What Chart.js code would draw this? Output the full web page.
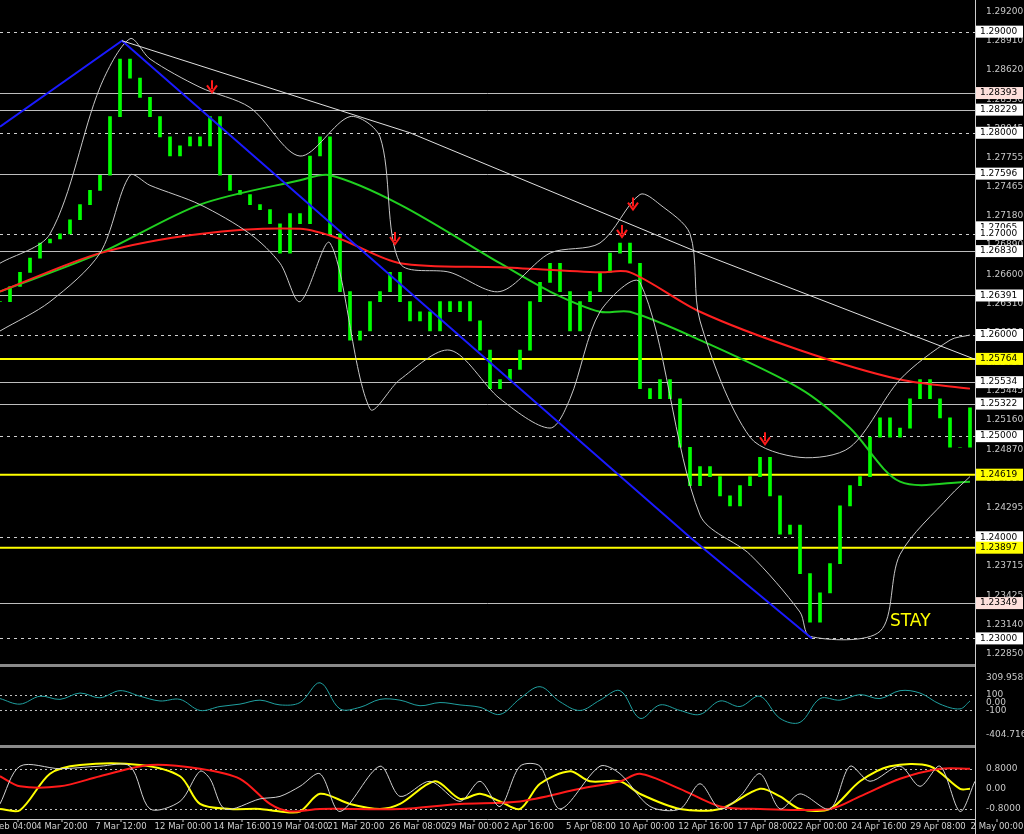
<!DOCTYPE html>
<html><head><meta charset="utf-8">
<script src="https://cdn.jsdelivr.net/npm/chart.js@4"></script>
<style>
body{margin:0;background:#000;width:1024px;height:834px;overflow:hidden;position:relative;font-family:Tahoma,"DejaVu Sans",sans-serif}
.pane{position:absolute;left:0;width:1024px}
.sep{position:absolute;left:0;width:975px;height:3px;background:#8a8a8a}
#frame{position:absolute;left:975px;top:0;width:1px;height:834px;background:#ccc}
</style></head><body>
<div class="pane" style="top:0;height:665px"><canvas id="main"></canvas></div>
<div class="sep" style="top:664px"></div>
<div class="pane" style="top:668px;height:77px"><canvas id="cci"></canvas></div>
<div class="sep" style="top:745px"></div>
<div class="pane" style="top:749px;height:85px"><canvas id="osc"></canvas></div>
<div id="frame"></div>
<script>
// ---- price data (x = bar index, 10 px per step) ----
const closes = [1.2633,1.2648,1.2662,1.2676,1.2691,1.2695,1.2700,1.2714,1.2729,1.2743,
  1.2758,1.2816,1.2873,1.2854,1.2835,1.2816,1.2796,1.2777,1.2787,1.2796,
  1.2787,1.2816,1.2758,1.2743,1.2739,1.2729,1.2724,1.2710,1.2681,1.2720,
  1.2710,1.2777,1.2796,1.2700,1.2643,1.2595,1.2604,1.2633,1.2643,1.2662,
  1.2633,1.2614,1.2623,1.2604,1.2633,1.2623,1.2633,1.2614,1.2585,1.2547,
  1.2556,1.2566,1.2585,1.2633,1.2652,1.2671,1.2643,1.2604,1.2633,1.2643,
  1.2662,1.2681,1.2691,1.2671,1.2547,1.2537,1.2556,1.2537,1.2489,1.2451,
  1.2470,1.2460,1.2441,1.2431,1.2451,1.2460,1.2479,1.2441,1.2403,1.2412,
  1.2364,1.2316,1.2345,1.2374,1.2431,1.2451,1.2460,1.2499,1.2518,1.2499,
  1.2508,1.2537,1.2556,1.2537,1.2518,1.2489,1.2489,1.2528];
const maRed = [[0,1.2643],[10,1.2681],[20,1.2700],[30,1.2705],[34,1.2695],[40,1.2671],[50,1.2667],[60,1.2662],[63,1.2662],[70,1.2623],[80,1.2585],[90,1.2556],[97,1.2547]];
const maGreen = [[0,1.2643],[10,1.2681],[20,1.2729],[30,1.2753],[33,1.2758],[40,1.2729],[50,1.2671],[55,1.2643],[60,1.2623],[63,1.2623],[70,1.2595],[80,1.2547],[85,1.2508],[90,1.2455],[97,1.2455]];
const bandUp = [[0,1.2671],[5,1.2700],[10,1.2845],[13,1.2893],[15,1.2873],[20,1.2845],[25,1.2825],[30,1.2777],[35,1.2816],[38,1.2796],[40,1.2671],[45,1.2662],[50,1.2643],[55,1.2681],[60,1.2691],[64,1.2739],[66,1.2729],[69,1.2700],[70,1.2614],[75,1.2499],[80,1.2479],[85,1.2489],[90,1.2556],[95,1.2595],[97,1.2600]];
const bandDn = [[0,1.2604],[5,1.2633],[10,1.2681],[13,1.2758],[15,1.2748],[20,1.2729],[25,1.2700],[28,1.2671],[30,1.2633],[33,1.2691],[37,1.2527],[40,1.2556],[45,1.2585],[50,1.2537],[55,1.2508],[57,1.2537],[60,1.2623],[64,1.2652],[70,1.2422],[75,1.2383],[80,1.2326],[81,1.2302],[88,1.2307],[90,1.2383],[95,1.2441],[97,1.2460]];
const blueLine = [[0,1.2806],[12.2,1.2891],[69,1.2400],[81.2,1.2300]];
const whiteTrend = [[12.2,1.2891],[41,1.2800],[69.5,1.2683],[97.5,1.2576]];
const solidLevels = [1.28393,1.28229,1.27596,1.26830,1.26391,1.25534,1.25322,1.23349];
const dashedLevels = [1.29000,1.28000,1.27000,1.26000,1.25000,1.24000,1.23000];
const yellowLevels = [1.25764,1.24619,1.23897];
const priceTicks = [1.29200,1.28910,1.28620,1.28330,1.28045,1.27755,1.27465,1.27180,1.26890,1.26600,1.26310,1.26020,1.25730,1.25445,1.25160,1.24870,1.24580,1.24295,1.24005,1.23715,1.23425,1.23140,1.22850];
const boxLabels = [[1.29000,'#fff'],[1.28393,'#fde0dc'],[1.28229,'#fff'],[1.28000,'#fff'],[1.27596,'#fff'],[1.27065,'#fff'],[1.27000,'#fff'],[1.26830,'#fff'],[1.26391,'#fff'],[1.26000,'#fff'],[1.25764,'#ffff00'],[1.25534,'#fff'],[1.25322,'#fff'],[1.25000,'#fff'],[1.24619,'#ffff00'],[1.24000,'#fff'],[1.23897,'#ffff00'],[1.23349,'#fde0dc'],[1.23000,'#fff']];
const arrows = [[21.2,1.2843],[39.5,1.2693],[63.3,1.2727],[62.2,1.2700],[76.5,1.2495]];
// ---- CCI ----
const cciX = [0,2,4,6,8,10,12,14,16,18,20,22,24,26,28,30,32,34,36,38,40,42,44,46,48,50,52,54,56,58,60,62,64,66,68,70,72,74,76,78,80,82,84,86,88,90,92,94,96,97];
const cciVals = [50,-20,80,40,120,60,150,80,20,40,-100,-50,-20,30,-30,0,250,-80,-60,40,30,-40,0,-30,-60,-150,50,200,10,-100,30,150,-200,-30,-100,-150,20,-50,80,-200,-250,50,30,100,50,150,120,-20,-80,20];
// ---- oscillator ----
const oscYellow = [[0,-0.8],[2,-0.85],[5,0.6],[8,0.95],[14,0.95],[18,0.5],[20,-0.6],[23,-0.8],[26,-0.8],[28,-0.9],[30,-0.9],[32,-0.2],[35,-0.6],[38,-0.8],[40,-0.6],[43.5,0.3],[46,-0.4],[48,-0.2],[50,-0.5],[52,-0.8],[54,0.2],[57,0.7],[59,0.3],[62,0.3],[64,-0.2],[68,-0.8],[72,-0.8],[76,0.0],[78,-0.3],[80,-0.8],[83,-0.8],[86,0.3],[89,0.9],[93,0.9],[96,0.0],[97,0.0]];
const oscRed = [[0,0.5],[2,0.1],[6,0.1],[10,0.5],[15,0.95],[20,0.8],[24,0.4],[27,-0.6],[29,-0.9],[32,-0.8],[40,-0.8],[46,-0.6],[52,-0.5],[58,0.0],[62,0.3],[64,0.6],[68,0.0],[72,-0.7],[76,-0.8],[83,-0.8],[86,-0.3],[90,0.4],[94,0.8],[97,0.8]];
const oscWhite = [[0,-0.6],[2,0.9],[6,0.8],[10,0.9],[13,0.9],[15,-0.8],[18,-0.5],[20,0.7],[21,0.4],[22.5,-0.8],[26,-0.4],[28,-0.3],[30,0.1],[32,0.6],[34,-0.9],[38,0.9],[40,-0.3],[43,0.3],[46,-0.5],[48,0.3],[50,-0.7],[52,0.9],[54,0.9],[56,-0.8],[60,0.9],[62,0.6],[65,-0.7],[68,-0.8],[70,0.2],[72,-0.8],[74,-0.3],[76,0.6],[78,-0.8],[80,-0.2],[83,-0.8],[85,0.9],[87,0.3],[90,0.9],[92,0.1],[94,0.9],[96,-0.9],[97.5,0.3]];
const timeLabels = [[1.8,'eb 04:00'],[6.2,'4 Mar 20:00'],[12.1,'7 Mar 12:00'],[18.3,'12 Mar 00:00'],[24.2,'14 Mar 16:00'],[30,'19 Mar 04:00'],[35.6,'21 Mar 20:00'],[41.8,'26 Mar 08:00'],[47.4,'29 Mar 00:00'],[52.9,'2 Apr 16:00'],[59.1,'5 Apr 08:00'],[64.7,'10 Apr 00:00'],[70.6,'12 Apr 16:00'],[76.5,'17 Apr 08:00'],[82,'22 Apr 00:00'],[87.9,'24 Apr 16:00'],[93.8,'29 Apr 08:00'],[99.7,'2 May 00:00']];

const pts = a => a.map(([x, y]) => ({x, y}));
const FONT = {family: 'Tahoma, "DejaVu Sans", sans-serif', size: 9};
const xAxis = {type: 'linear', min: 0, max: 97.5, display: false, offset: false};
function yAxis(min, max, ticks, fmt) {
  return {position: 'right', min, max, grid: {display: false}, border: {display: false},
    afterFit: s => { s.width = 49; },
    afterBuildTicks: s => { s.ticks = ticks.map(v => ({value: v})); },
    ticks: {color: '#c8c8c8', font: FONT, padding: 3, autoSkip: false, callback: fmt}};
}
function line(data, color, w, extra) {
  return Object.assign({type: 'line', data: pts(data), borderColor: color, borderWidth: w, pointRadius: 0, tension: 0.3}, extra || {});
}

const overlays = {
  id: 'overlays',
  beforeDatasetsDraw(c) {
    const {ctx, chartArea: a, scales: {y}} = c;
    ctx.save(); ctx.lineWidth = 1;
    ctx.strokeStyle = '#bdbdbd';
    solidLevels.forEach(v => { const p = Math.round(y.getPixelForValue(v)) + .5; ctx.beginPath(); ctx.moveTo(a.left, p); ctx.lineTo(a.right, p); ctx.stroke(); });
    ctx.setLineDash([3, 4]); ctx.strokeStyle = '#d0d0d0';
    dashedLevels.forEach(v => { const p = Math.round(y.getPixelForValue(v)) + .5; ctx.beginPath(); ctx.moveTo(a.left, p); ctx.lineTo(a.right, p); ctx.stroke(); });
    ctx.setLineDash([]); ctx.strokeStyle = '#ffff00'; ctx.lineWidth = 2;
    yellowLevels.forEach(v => { const p = y.getPixelForValue(v); ctx.beginPath(); ctx.moveTo(a.left, p); ctx.lineTo(a.right, p); ctx.stroke(); });
    ctx.restore();
  },
  afterDraw(c) {
    const {ctx, chartArea: a, scales: {x, y}} = c;
    ctx.save();
    ctx.font = '9px Tahoma, "DejaVu Sans", sans-serif'; ctx.textBaseline = 'middle';
    boxLabels.forEach(([v, bg]) => {
      const p = y.getPixelForValue(v);
      ctx.fillStyle = bg; ctx.fillRect(a.right + 1, p - 6, 47, 12);
      ctx.fillStyle = '#000'; ctx.fillText(v.toFixed(5), a.right + 5, p);
    });
    ctx.fillStyle = '#ff1a1a'; ctx.strokeStyle = '#ff1a1a'; ctx.lineWidth = 2;
    arrows.forEach(([i, v]) => {
      const px = x.getPixelForValue(i), py = y.getPixelForValue(v);
      ctx.beginPath(); ctx.moveTo(px, py - 9); ctx.lineTo(px, py); ctx.stroke();
      ctx.beginPath(); ctx.moveTo(px - 5, py - 4); ctx.lineTo(px, py + 3); ctx.lineTo(px + 5, py - 4); ctx.stroke();
    });
    ctx.fillStyle = '#ffff00'; ctx.font = '17px Tahoma, "DejaVu Sans", sans-serif';
    ctx.fillText('STAY', x.getPixelForValue(89), y.getPixelForValue(1.2317));
    ctx.restore();
  }
};

new Chart(document.getElementById('main'), {
  type: 'bar',
  data: {datasets: [
    line(whiteTrend, '#e0e0e0', 1, {tension: 0}),
    line(blueLine, '#1a1aff', 2, {tension: 0}),
    line(bandUp, '#c8c8c8', 1),
    line(bandDn, '#c8c8c8', 1),
    line(maRed, '#ff2020', 2),
    line(maGreen, '#20d020', 2),
    {type: 'bar', data: closes.map((c, i) => ({x: i, y: [i ? closes[i - 1] : c, c]})),
      backgroundColor: '#00ff00', barThickness: 3, order: 10}
  ]},
  options: {responsive: true, maintainAspectRatio: false, animation: false,
    layout: {padding: 0},
    plugins: {legend: {display: false}, tooltip: {enabled: false}},
    scales: {x: xAxis, y: yAxis(1.2282, 1.2923, priceTicks, v => v.toFixed(5))}},
  plugins: [overlays]
});

const guides = (levels) => ({
  id: 'guides',
  beforeDatasetsDraw(c) {
    const {ctx, chartArea: a, scales: {y}} = c;
    ctx.save(); ctx.strokeStyle = '#c0c0c0'; ctx.setLineDash([2, 3]);
    levels.forEach(v => { const p = Math.round(y.getPixelForValue(v)) + .5; ctx.beginPath(); ctx.moveTo(a.left, p); ctx.lineTo(a.right, p); ctx.stroke(); });
    ctx.restore();
  }
});

new Chart(document.getElementById('cci'), {
  type: 'line',
  data: {datasets: [line(cciX.map((x, i) => [x, cciVals[i]]), '#20a0a0', 1, {tension: 0.35})]},
  options: {responsive: true, maintainAspectRatio: false, animation: false,
    plugins: {legend: {display: false}, tooltip: {enabled: false}},
    scales: {x: xAxis, y: yAxis(-430, 330, [309.9587, 100, 0, -100, -404.7165], v => v === 0 ? '0.00' : String(v))}},
  plugins: [guides([100, -100])]
});

const timeAxis = {
  id: 'timeAxis',
  afterDraw(c) {
    const {ctx, chartArea: a, scales: {x}} = c;
    ctx.save(); ctx.fillStyle = '#d0d0d0'; ctx.font = '8.5px Tahoma, "DejaVu Sans", sans-serif';
    ctx.textAlign = 'center'; ctx.textBaseline = 'top'; ctx.strokeStyle = '#ccc';
    ctx.beginPath(); ctx.moveTo(0, a.bottom + 1.5); ctx.lineTo(a.right, a.bottom + 1.5); ctx.stroke();
    timeLabels.forEach(([i, t]) => {
      const px = x.getPixelForValue(i);
      ctx.beginPath(); ctx.moveTo(px, a.bottom + 1); ctx.lineTo(px, a.bottom + 4); ctx.stroke();
      ctx.fillText(t, px, a.bottom + 5);
    });
    ctx.restore();
  }
};

new Chart(document.getElementById('osc'), {
  type: 'line',
  data: {datasets: [
    line(oscWhite, '#d0d0d0', 1),
    line(oscRed, '#ff1a1a', 2),
    line(oscYellow, '#ffff00', 2)
  ]},
  options: {responsive: true, maintainAspectRatio: false, animation: false,
    layout: {padding: {bottom: 16}},
    plugins: {legend: {display: false}, tooltip: {enabled: false}},
    scales: {x: xAxis, y: yAxis(-1.16, 1.25, [0.8, 0, -0.8], v => v === 0 ? '0.00' : v.toFixed(4))}},
  plugins: [guides([0.8, -0.8]), timeAxis]
});
</script>
</body></html>
